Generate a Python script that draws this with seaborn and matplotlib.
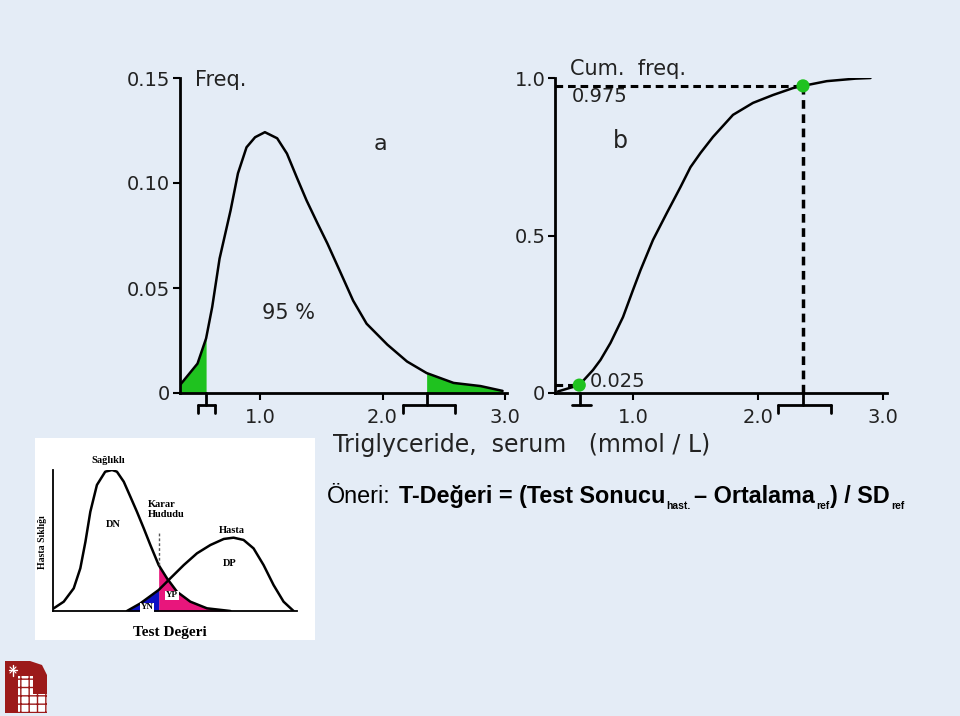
import numpy as np
import seaborn as sns
import matplotlib.pyplot as plt
from matplotlib.patches import Rectangle, Polygon

# panel a: frequency of serum triglyceride
freq_x = [0.35, 0.49, 0.56, 0.61, 0.67, 0.76, 0.82, 0.89, 0.96, 1.04, 1.14, 1.22, 1.30,
          1.38, 1.47, 1.55, 1.65, 1.76, 1.87, 2.04, 2.20, 2.36, 2.58, 2.80, 2.98]
freq_y = [0.004, 0.014, 0.026, 0.041, 0.064, 0.087, 0.1046, 0.117, 0.1218, 0.1242, 0.1213,
          0.114, 0.1027, 0.0917, 0.0807, 0.0712, 0.0583, 0.044, 0.033, 0.023, 0.015, 0.0095,
          0.0048, 0.0033, 0.001]
p_low, p_high = 0.56, 2.36
freq_ticks = [0, 0.05, 0.10, 0.15]
freq_ticklabels = ["0", "0.05", "0.10", "0.15"]

# panel b: cumulative frequency
cum_x = [0.40, 0.57, 0.68, 0.74, 0.82, 0.87, 0.92, 1.00, 1.06, 1.16, 1.27, 1.38, 1.46,
         1.54, 1.64, 1.80, 1.96, 2.12, 2.28, 2.36, 2.55, 2.78, 2.90]
cum_y = [0.005, 0.025, 0.073, 0.105, 0.159, 0.20, 0.241, 0.327, 0.39, 0.486, 0.571, 0.654,
         0.717, 0.762, 0.813, 0.883, 0.921, 0.946, 0.968, 0.975, 0.99, 0.998, 1.0]
cum_marks_x = [0.57, 2.36]
cum_marks_y = [0.025, 0.975]
cum_ticks = [0, 0.5, 1.0]
cum_ticklabels = ["0", "0.5", "1.0"]
x_ticks = [1.0, 2.0, 3.0]
x_ticklabels = ["1.0", "2.0", "3.0"]

# inset: healthy / sick distributions
healthy_x = [0.03, 0.44, 0.85, 1.12, 1.33, 1.53, 1.80, 2.14, 2.42, 2.62, 2.90, 3.17, 3.44,
             3.72, 3.99, 4.33, 4.67, 5.08, 5.63, 6.31, 7.27]
healthy_y = [0.019, 0.066, 0.161, 0.303, 0.492, 0.704, 0.894, 0.988, 1.0, 0.988, 0.917, 0.811,
             0.704, 0.586, 0.468, 0.326, 0.232, 0.137, 0.066, 0.019, 0.0]
sick_x = [3.03, 3.58, 4.33, 4.81, 5.36, 5.90, 6.45, 7.00, 7.40, 7.81, 8.22, 8.63, 9.04, 9.45, 9.86]
sick_y = [0.0, 0.054, 0.149, 0.232, 0.326, 0.409, 0.468, 0.511, 0.520, 0.504, 0.444, 0.326,
          0.184, 0.066, 0.0]
cutoff = 4.33

sns.set_style("white")
plt.rcParams['font.family'] = ['DejaVu Sans']

W, H = 960, 716
bg = '#e4ecf6'
green = '#1fc21f'
fig = plt.figure(figsize=(W / 100, H / 100), dpi=100, facecolor=bg)


def rect(l, t, r, b):
    return [l / W, 1 - b / H, (r - l) / W, (b - t) / H]


def style_axis(ax):
    for s in ['top', 'right']:
        ax.spines[s].set_visible(False)
    for s in ['left', 'bottom']:
        ax.spines[s].set_color('black')
        ax.spines[s].set_linewidth(2)
    ax.set_facecolor('none')
    ax.tick_params(axis='both', length=5, width=1.5, color='black', labelsize=14,
                   labelcolor='#222222', left=True, bottom=True)
    ax.tick_params(axis='y', pad=2)
    ax.tick_params(axis='x', pad=6)


def bracket(ax, xc, x0, x1, top=0.0, ends=True):
    tr = ax.get_xaxis_transform()
    ax.plot([xc, xc], [top, -0.038], color='black', lw=2, transform=tr, clip_on=False)
    ax.plot([x0, x1], [-0.038, -0.038], color='black', lw=2, transform=tr, clip_on=False)
    if ends:
        for xe in (x0, x1):
            ax.plot([xe, xe], [-0.038, -0.063], color='black', lw=2, transform=tr, clip_on=False)


# ---- panel a
ax1 = fig.add_axes(rect(180, 78, 507, 393))
fx = np.array(freq_x)
fy = np.array(freq_y)
ax1.fill_between(fx, 0, fy, where=fx <= p_low, color=green, lw=0)
ax1.fill_between(fx, 0, fy, where=fx >= p_high, color=green, lw=0)
sns.lineplot(x=freq_x, y=freq_y, ax=ax1, color='black', lw=1.8)
ax1.set_xlim(0.347, 3.016)
ax1.set_ylim(0, 0.15)
ax1.set_yticks(freq_ticks)
ax1.set_yticklabels(freq_ticklabels)
ax1.set_xticks(x_ticks)
ax1.set_xticklabels(x_ticklabels)
style_axis(ax1)
bracket(ax1, 0.56, 0.49, 0.63)
bracket(ax1, 2.36, 2.17, 2.59)
ax1.text(0.47, 0.149, "Freq.", fontsize=15, va='center', ha='left', color='#222222')
ax1.text(1.98, 0.1186, "a", fontsize=16, va='center', ha='center', color='#222222')
ax1.text(1.23, 0.038, "95 %", fontsize=15, va='center', ha='center', color='#222222')

# ---- panel b
ax2 = fig.add_axes(rect(555, 78, 887, 393))
dash = (0, (2.5, 1.6))
ax2.plot([0.376, 2.36], [0.975, 0.975], color='black', lw=2.2, ls=dash)
ax2.plot([2.36, 2.36], [0, 0.975], color='black', lw=2.5, ls=dash)
ax2.plot([0.376, 0.57], [0.025, 0.025], color='black', lw=2.2, ls=dash)
sns.lineplot(x=cum_x, y=cum_y, ax=ax2, color='black', lw=1.8)
sns.scatterplot(x=cum_marks_x, y=cum_marks_y, ax=ax2, color=green, s=90,
                edgecolor='none', zorder=5, clip_on=False)
ax2.set_xlim(0.376, 3.032)
ax2.set_ylim(0, 1.0)
ax2.set_yticks(cum_ticks)
ax2.set_yticklabels(cum_ticklabels)
ax2.set_xticks(x_ticks)
ax2.set_xticklabels(x_ticklabels)
style_axis(ax2)
bracket(ax2, 0.576, 0.51, 0.66, ends=False)
bracket(ax2, 2.36, 2.16, 2.58, top=0.02)
ax2.text(0.496, 1.03, "Cum.  freq.", fontsize=15, va='center', ha='left', color='#222222')
ax2.text(0.51, 0.94, "0.975", fontsize=14, va='center', ha='left', color='#222222')
ax2.text(0.896, 0.80, "b", fontsize=17, va='center', ha='center', color='#222222')
ax2.text(0.656, 0.035, "0.025", fontsize=14, va='center', ha='left', color='#222222')

fig.text(522 / W, 1 - 445 / H, "Triglyceride,  serum   (mmol / L)", fontsize=17,
         ha='center', va='center', color='#222222')

# ---- inset
axbg = fig.add_axes(rect(35, 438, 315, 640))
axbg.set_facecolor('white')
axbg.set_xticks([])
axbg.set_yticks([])
for s in axbg.spines.values():
    s.set_visible(False)

ax3 = fig.add_axes(rect(53, 470, 297, 611))
hx = np.array(healthy_x)
hy = np.array(healthy_y)
sx = np.array(sick_x)
sy = np.array(sick_y)
ax3.fill_between(hx, 0, hy, where=hx >= cutoff, color='#e8167c', lw=0)
ax3.fill_between(sx, 0, sy, where=sx <= cutoff, color='#0c10c4', lw=0)
sns.lineplot(x=healthy_x, y=healthy_y, ax=ax3, color='black', lw=1.8)
sns.lineplot(x=sick_x, y=sick_y, ax=ax3, color='black', lw=1.8)
ax3.plot([cutoff, cutoff], [0.326, 0.563], color='#555555', lw=1, ls=(0, (2, 1.5)))
ax3.set_xlim(0, 10)
ax3.set_ylim(0, 1.0)
ax3.set_xticks([])
ax3.set_yticks([])
ax3.set_facecolor('none')
for s in ['top', 'right']:
    ax3.spines[s].set_visible(False)
for s in ['left', 'bottom']:
    ax3.spines[s].set_color('black')
    ax3.spines[s].set_linewidth(1.3)

serif = dict(family='Liberation Serif', fontweight='bold', color='black')
ax3.text(2.25, 1.07, "Sağlıklı", fontsize=7.5, ha='center', va='center', clip_on=False, **serif)
ax3.text(2.46, 0.61, "DN", fontsize=7.5, ha='center', va='center', **serif)
ax3.text(3.89, 0.72, "Karar\nHududu", fontsize=7.5, ha='left', va='center',
         linespacing=1.1, **serif)
ax3.text(7.34, 0.57, "Hasta", fontsize=7.5, ha='center', va='center', **serif)
ax3.text(7.25, 0.34, "DP", fontsize=7.5, ha='center', va='center', **serif)
ax3.text(4.88, 0.11, "YP", fontsize=6.5, ha='center', va='center',
         bbox=dict(boxstyle='square,pad=0.1', fc='white', ec='none'), **serif)
ax3.text(3.85, 0.025, "YN", fontsize=6.5, ha='center', va='center',
         bbox=dict(boxstyle='square,pad=0.1', fc='white', ec='none'), **serif)
ax3.text(4.8, -0.15, "Test Değeri", fontsize=11, ha='center', va='center', clip_on=False, **serif)
ax3.text(-0.41, 0.49, "Hasta Sıklığı", fontsize=7, ha='center', va='center',
         rotation=90, clip_on=False, **serif)

# ---- formula line
renderer = fig.canvas.get_renderer()
base = 503
pieces = [
    ("Öneri:", 'normal', 16.8, 0, 8),
    ("T-Değeri = (Test Sonucu", 'bold', 16.8, 0, 1),
    ("hast.", 'bold', 7.5, 6, 4),
    ("– Ortalama", 'bold', 16.8, 0, 1),
    ("ref", 'bold', 7.5, 6, 1),
    (") / SD", 'bold', 16.8, 0, 1),
    ("ref", 'bold', 7.5, 6, 0),
]
xpos = 327
for txt, weight, size, drop, gap in pieces:
    t = fig.text(xpos / W, 1 - (base + drop) / H, txt, fontsize=size, fontweight=weight,
                 family='Liberation Sans', ha='left', va='baseline', color='black')
    bb = t.get_window_extent(renderer)
    xpos = bb.x1 + gap

# ---- logo
logo = fig.add_axes([0, 0, 1, 1], facecolor='none')
logo.set_xlim(0, W)
logo.set_ylim(H, 0)
logo.axis('off')
logo.add_patch(Polygon([(5, 713), (5, 661), (30, 661), (42, 665), (47, 675), (47, 713)],
                       closed=True, fc='#9c1a1a', ec='none'))
logo.add_patch(Rectangle((18, 676), 15, 36, fc='white', ec='#9c1a1a', hatch='++', lw=0))
logo.add_patch(Rectangle((33, 694), 14, 18, fc='white', ec='#9c1a1a', hatch='++', lw=0))
logo.plot([9, 17], [670, 670], color='white', lw=1)
logo.plot([13, 13], [665, 676], color='white', lw=1)
logo.plot([10, 16], [667, 673], color='white', lw=0.8)
logo.plot([10, 16], [673, 667], color='white', lw=0.8)

fig.savefig('out.png', dpi=100, facecolor=bg)
